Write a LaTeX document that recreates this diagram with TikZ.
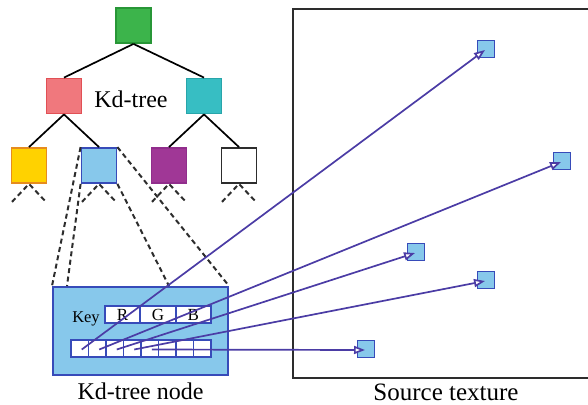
\documentclass[tikz,border=0pt]{standalone}
\usepackage{fontspec}
\setmainfont{Liberation Serif}
\usepackage{tikz}
\usetikzlibrary{arrows.meta,positioning,calc}
\definecolor{inkgray}{RGB}{45,45,45}
\definecolor{leafgreen}{RGB}{60,180,75}
\definecolor{leafgreenb}{RGB}{40,150,55}
\definecolor{salmon}{RGB}{240,120,125}
\definecolor{salmonb}{RGB}{225,80,85}
\definecolor{teal}{RGB}{55,190,195}
\definecolor{tealb}{RGB}{40,165,170}
\definecolor{sunny}{RGB}{255,210,0}
\definecolor{sunnyb}{RGB}{230,140,30}
\definecolor{skyfill}{RGB}{135,200,235}
\definecolor{skyb}{RGB}{55,75,185}
\definecolor{plum}{RGB}{160,55,150}
\definecolor{plumb}{RGB}{145,45,140}
\definecolor{ptrblue}{RGB}{75,60,165}
\tikzset{
  tnode/.style={draw,line width=1.8pt,minimum size=35pt,inner sep=0pt},
  edge/.style={draw=black,line width=1.7pt},
  fan/.style={draw=inkgray,line width=2pt,dash pattern=on 5pt off 3.5pt},
  cell/.style={draw=skyb,fill=white,line width=1.8pt,minimum height=17pt,inner sep=0pt,font=\fontsize{17}{19}\selectfont},
  texel/.style={draw=skyb,fill=skyfill,line width=1.6pt,minimum size=17pt,inner sep=0pt},
  ptr/.style={-{Triangle[fill=white,length=11pt,width=8pt]},draw=ptrblue,line width=1.7pt},
  caption/.style={font=\fontsize{24}{28}\selectfont,anchor=base,inner sep=0pt}
}
\begin{document}
\begin{tikzpicture}[x=1pt,y=-1pt]
  \useasboundingbox (0,0) rectangle (588,404);
  % kd-tree
  \node[tnode,fill=leafgreen,draw=leafgreenb] (root) at (133.5,25.5) {};
  \node[tnode,fill=salmon,draw=salmonb] (lft) at (64,96) {};
  \node[tnode,fill=teal,draw=tealb] (rgt) at (204,96) {};
  \node[tnode,fill=sunny,draw=sunnyb] (ll) at (29,165.5) {};
  \node[tnode,fill=skyfill,draw=skyb] (lr) at (99,165.5) {};
  \node[tnode,fill=plum,draw=plumb] (rl) at (169,165.5) {};
  \node[tnode,fill=white,draw=inkgray] (rr) at (239,165.5) {};
  \node[caption] (treetxt) at (131,107) {Kd-tree};
  \draw[edge] (root.south) -- (lft.north);
  \draw[edge] (root.south) -- (rgt.north);
  \draw[edge] (lft.south) -- (ll.north);
  \draw[edge] (lft.south) -- (lr.north);
  \draw[edge] (rgt.south) -- (rl.north);
  \draw[edge] (rgt.south) -- (rr.north);
  \foreach \leaf in {ll,lr,rl,rr}{
    \draw[fan] ($(\leaf.south)+(-17,18)$) -- (\leaf.south) -- ($(\leaf.south)+(17,18)$);
  }
  % node layout
  \node[draw=skyb,fill=skyfill,line width=2pt,minimum width=175pt,minimum height=88pt,inner sep=0pt] (kdbox) at (140.5,331) {};
  \node[caption] (kdtxt) at (kdbox.south |- 0,399) {Kd-tree node};
  \coordinate (fanA) at ($(kdbox.north west)+(15,0)$);
  \coordinate (fanB) at ($(kdbox.north west)+(117,0)$);
  \draw[fan] (lr.north west) -- (kdbox.north west);
  \draw[fan] (lr.south west) -- (fanA);
  \draw[fan] (lr.north east) -- (kdbox.north east);
  \draw[fan] (lr.south east) -- (fanB);
  \node[font=\fontsize{16.5}{18}\selectfont,anchor=base] (keytxt) at (86,322) {Key};
  \foreach \ch [count=\i] in {R,G,B}
    \node[cell,minimum width=35.3pt] (k\i) at ({105+35.3*(\i-0.5)},314.5) {\ch};
  \foreach \i in {1,...,8}
    \node[cell,minimum width=17.5pt] (c\i) at ({71+17.5*(\i-0.5)},348.5) {};
  % source texture
  \node[draw=inkgray,line width=1.8pt,minimum width=298pt,minimum height=369pt,inner sep=0pt,anchor=north west] (tex) at (292,8) {};
  \node[caption,font=\fontsize{25}{28}\selectfont] (textxt) at (446,400) {Source texture};
  \node[texel] (t1) at (486,49) {};
  \node[texel] (t2) at (562,161) {};
  \node[texel] (t3) at (416,252) {};
  \node[texel] (t4) at (486,280) {};
  \node[texel] (t5) at (366,349) {};
  \foreach \i in {1,...,5}
    \draw[ptr] ([xshift=2pt,yshift=-1pt]c\i.center) -- ([xshift=-1pt,yshift=-1pt]t\i.center);
\end{tikzpicture}
\end{document}
